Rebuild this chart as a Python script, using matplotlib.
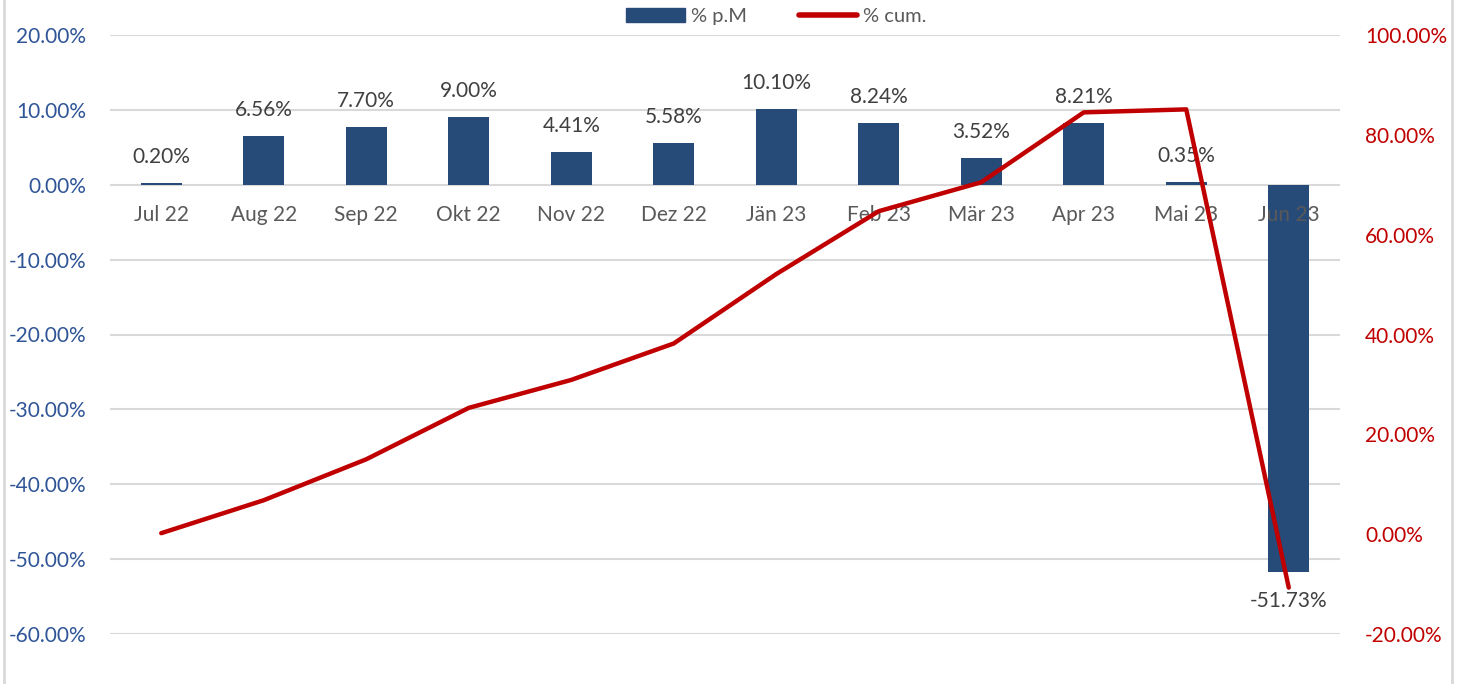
import matplotlib.pyplot as plt
from matplotlib.lines import Line2D
from matplotlib.ticker import FuncFormatter

plt.rcParams['font.family'] = ['Lato', 'DejaVu Sans']

months = ["Jul 22", "Aug 22", "Sep 22", "Okt 22", "Nov 22", "Dez 22",
          "Jän 23", "Feb 23", "Mär 23", "Apr 23", "Mai 23", "Jun 23"]
pm = [0.20, 6.56, 7.70, 9.00, 4.41, 5.58, 10.10, 8.24, 3.52, 8.21, 0.35, -51.73]
cum = [0.2, 6.8, 15.0, 25.3, 30.9, 38.2, 52.1, 64.7, 70.5, 84.5, 85.1, -10.7]

bar_col = "#264B79"
line_col = "#C00000"
grey = "#595959"

fig = plt.figure(figsize=(14.65, 6.84), dpi=100)
ax = fig.add_axes([110/1465, 50/684, 1230/1465, 599/684])
x = list(range(len(months)))

ax.bar(x, pm, width=0.4, color=bar_col, zorder=2)
ax.set_xlim(-0.5, len(months) - 0.5)
ax.set_ylim(-60, 20)
ax.set_yticks(range(-60, 21, 10))
ax.yaxis.set_major_formatter(FuncFormatter(lambda v, p: f"{v:.2f}%"))
ax.tick_params(axis="y", length=0, pad=17, labelsize=15, labelcolor="#2F5597")
ax.set_xticks([])
ax.grid(axis="y", color="#D9D9D9", linewidth=1.5, zorder=0)
ax.set_axisbelow(True)
for s in ax.spines.values():
    s.set_visible(False)

# month labels under the zero line
for i, m in enumerate(months):
    ax.annotate(m, (i, 0), xytext=(0, -30), textcoords="offset pixels",
                ha="center", va="center", fontsize=15, color=grey)

# value labels
for i, v in enumerate(pm):
    if v >= 0:
        ax.annotate(f"{v:.2f}%", (i, v), xytext=(0, 26), textcoords="offset pixels",
                    ha="center", va="center", fontsize=15, color="#404040")
    else:
        ax.annotate(f"{v:.2f}%", (i, v), xytext=(0, -29), textcoords="offset pixels",
                    ha="center", va="center", fontsize=15, color="#404040")

ax2 = ax.twinx()
ax2.plot(x, cum, color=line_col, linewidth=3.2, solid_capstyle="round",
         solid_joinstyle="round", zorder=3)
ax2.set_ylim(-20, 100)
ax2.set_yticks(range(-20, 101, 20))
ax2.yaxis.set_major_formatter(FuncFormatter(lambda v, p: f"{v:.2f}%"))
ax2.tick_params(axis="y", length=0, pad=18, labelsize=15, labelcolor=line_col)
for s in ax2.spines.values():
    s.set_visible(False)

handles = [plt.Rectangle((0, 0), 1, 1, color=bar_col),
           Line2D([0], [0], color=line_col, linewidth=4, solid_capstyle="round")]
fig.legend(handles, ["% p.M", "% cum."], loc="upper center",
           bbox_to_anchor=(0.53, 1.015), ncol=2, frameon=False,
           fontsize=14.5, labelcolor=grey, handlelength=2.9, columnspacing=2.6,
           handletextpad=0.3)

# chart frame edges
fig.add_artist(Line2D([4/1465, 4/1465], [0, 1], color="#D9D9D9", linewidth=2))
fig.add_artist(Line2D([1452/1465, 1452/1465], [0, 1], color="#D9D9D9", linewidth=2))

fig.savefig("out.png", dpi=100)
